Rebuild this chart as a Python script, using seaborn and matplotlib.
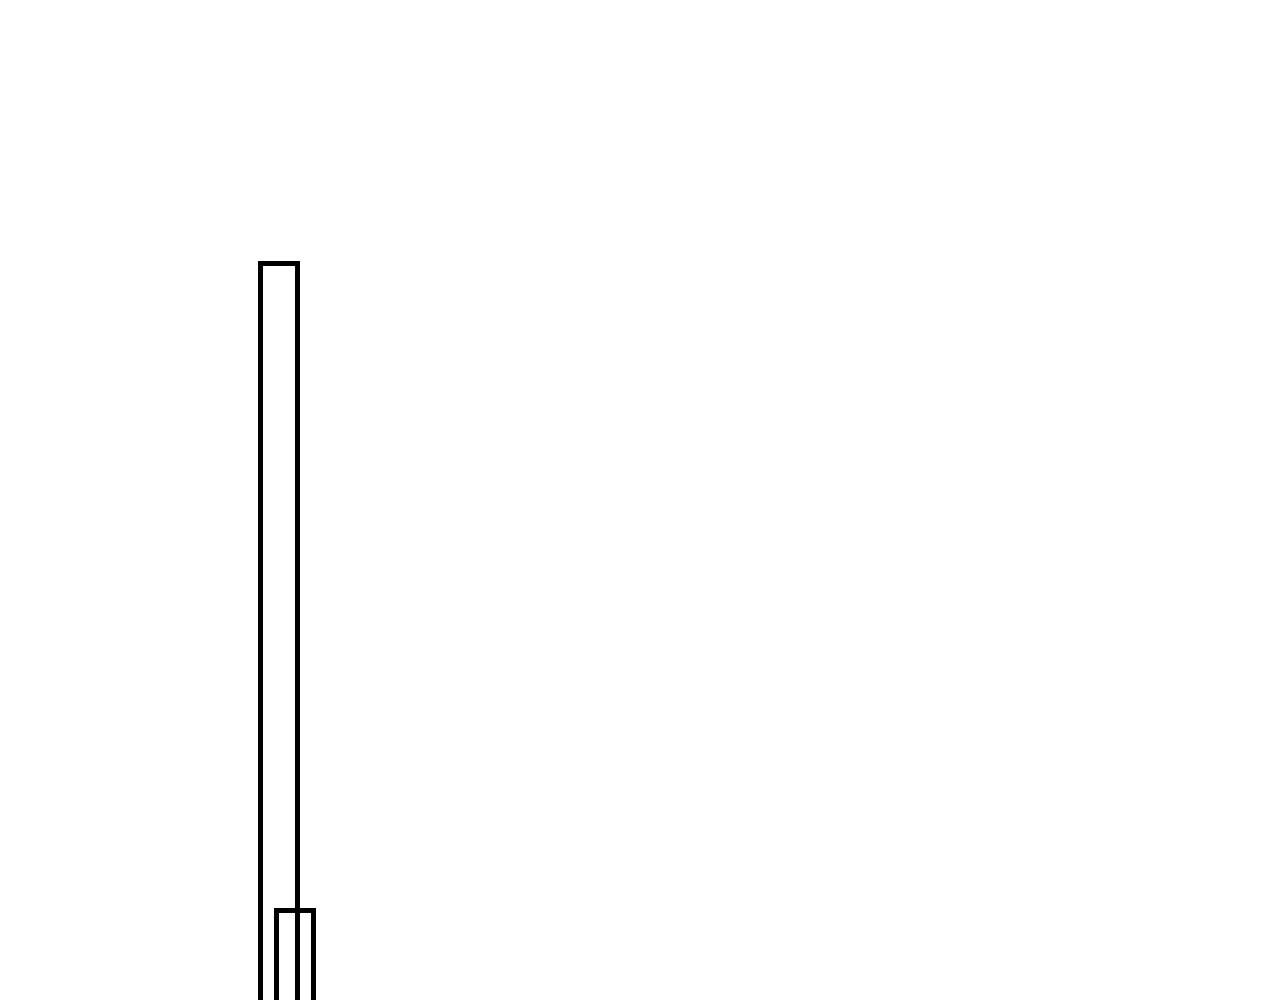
import matplotlib
matplotlib.use("Agg")
import matplotlib.pyplot as plt
import pandas as pd
import seaborn as sns

# two overlapping outline bars
positions = [0, 1]
heights = [30, 4]

df = pd.DataFrame({"pos": positions, "height": heights})

sns.set_style("white")
fig = plt.figure(figsize=(12.8, 10), dpi=100)
ax = fig.add_axes([0, 0, 1, 1])

sns.barplot(data=df, x="pos", y="height", native_scale=True, width=2.3,
            fill=False, color="black", linewidth=3.6, errorbar=None, ax=ax)

ax.set_xlim(-17.4, 62.6)
ax.set_ylim(0.4, 40.56)
ax.axis("off")

plt.savefig("out.png", dpi=100, facecolor="white")
